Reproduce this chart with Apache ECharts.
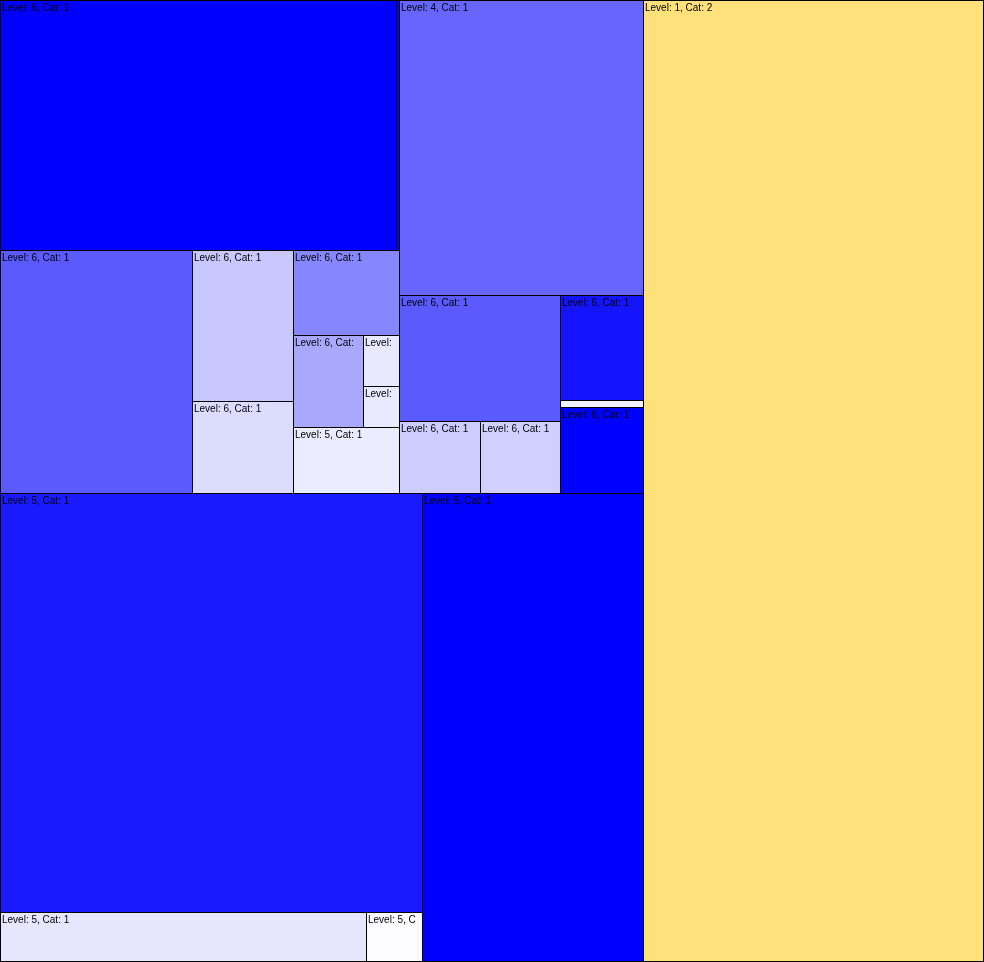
<!DOCTYPE html>
<html>
<head>
<meta charset="utf-8">
<script src="https://cdn.jsdelivr.net/npm/echarts@6/dist/echarts.min.js"></script>
<style>
html,body{margin:0;padding:0;background:#fff;}
#chart{width:984px;height:962px;}
</style>
</head>
<body>
<div id="chart"></div>
<script>
// Leaf nodes (values read as relative areas from the picture)
const leafNames = [
  'Level: 6, Cat: 1', 'Level: 6, Cat: 1', 'Level: 6, Cat: 1', 'Level: 6, Cat: 1',
  'Level: 6, Cat: 1', 'Level: 6, Cat: 1', 'Level: 6, Cat: 1', 'Level: 6, Cat: 1',
  'Level: 6, Cat: 1', 'Level: 5, Cat: 1', 'Level: 4, Cat: 1', 'Level: 6, Cat: 1',
  'Level: 6, Cat: 1', 'Level: 6, Cat: 1', 'Level: 6, Cat: 1', 'Level: 6, Cat: 1',
  'Level: 6, Cat: 1', 'Level: 5, Cat: 1', 'Level: 5, Cat: 1', 'Level: 5, Cat: 1',
  'Level: 5, Cat: 1', 'Level: 1, Cat: 2'
];
const leafValues = [
  99000, 750, 46656, 15251,
  9292, 9010, 6440, 1836,
  1476, 6996, 71980, 20286,
  5832, 5760, 8715, 581,
  7138, 176818, 17934, 2744,
  103428, 326740
];
const leafColors = [
  '#0000ff', '#0000ff', '#5a5aff', '#c8c8ff',
  '#dcdcff', '#8686ff', '#a8a8ff', '#e8e8ff',
  '#eaeaff', '#ececff', '#6666ff', '#5a5aff',
  '#ccccff', '#d0d0ff', '#1414ff', '#f0f0ff',
  '#0000ff', '#1a1aff', '#e6e6ff', '#fcfcff',
  '#0000ff', '#ffe17b'
];
// Hierarchy: nested groups of leaf indices
const nesting = [
  [
    [
      [ [0, 1], [2, [3, 4], [5, [6, [7, 8]], 9]] ],
      [10, [ [11, [12, 13]], [ [14, 15], 16 ] ] ]
    ],
    [ [17, [18, 19]], 20 ]
  ],
  21
];

function build(n, depth) {
  if (typeof n === 'number') {
    return { name: leafNames[n], value: leafValues[n], itemStyle: { color: leafColors[n] } };
  }
  return { name: 'Level: ' + depth + ', Cat: 1', children: n.map(function (c) { return build(c, depth + 1); }) };
}
const treeData = nesting.map(function (c) { return build(c, 1); });

const chart = echarts.init(document.getElementById('chart'), null, { renderer: 'canvas' });
chart.setOption({
  animation: false,
  tooltip: { show: false },
  series: [{
    type: 'treemap',
    left: 0, top: 0, width: 984, height: 962,
    roam: false,
    nodeClick: false,
    sort: null,
    squareRatio: 1.21,
    visibleMin: 0,
    breadcrumb: { show: false },
    itemStyle: { borderWidth: 0, gapWidth: 1, borderColor: '#000' },
    upperLabel: { show: false },
    label: {
      show: true,
      position: 'insideTopLeft',
      color: '#000',
      fontSize: 10,
      fontFamily: 'Liberation Sans',
      lineHeight: 12,
      padding: [1, 0, 0, 1],
      overflow: 'truncate',
      ellipsis: ''
    },
    emphasis: { disabled: true },
    levels: [
      { itemStyle: { borderWidth: 1, gapWidth: 1, borderColor: '#000' } }
    ],
    data: treeData
  }]
});
</script>
</body>
</html>
